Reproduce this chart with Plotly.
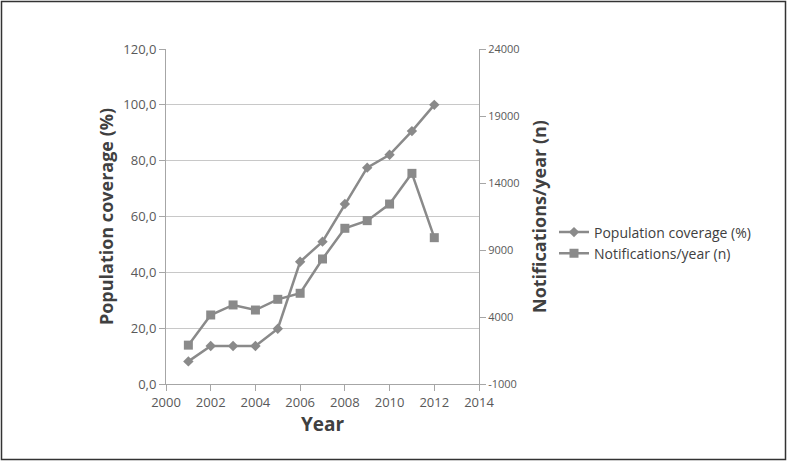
import plotly.graph_objects as go

# data
years = [2001, 2002, 2003, 2004, 2005, 2006, 2007, 2008, 2009, 2010, 2011, 2012]
coverage = [8.1, 13.6, 13.6, 13.6, 19.8, 43.8, 51.0, 64.5, 77.5, 82.1, 90.6, 100.0]
notifications = [1900, 4150, 4900, 4520, 5320, 5770, 8330, 10620, 11190, 12430, 14720, 9920]
right_ticks = [-1000, 4000, 9000, 14000, 19000, 24000]
right_labels = ["-1000", "4000", "9000", "14000", "19000", "24000"]

grey = "#8a8a8a"
axis_grey = "#a6a6a6"
font_family = "Open Sans, Lato, sans-serif"

fig = go.Figure()
fig.add_trace(go.Scatter(
    x=years, y=coverage, name="Population coverage (%)",
    mode="lines+markers", line=dict(color=grey, width=2.5),
    marker=dict(symbol="diamond", size=8, color=grey),
))
fig.add_trace(go.Scatter(
    x=years, y=notifications, name="Notifications/year (n)", yaxis="y2",
    mode="lines+markers", line=dict(color=grey, width=2.5),
    marker=dict(symbol="square", size=9, color=grey),
))

L, R, T, B = 166, 308, 49, 78
W, H = 787, 462
pw, ph = W - L - R, H - T - B

fig.update_layout(
    width=W, height=H,
    margin=dict(l=L, r=R, t=T, b=B),
    plot_bgcolor="white", paper_bgcolor="white",
    separators=",.",
    font=dict(family=font_family, size=12, color="#595959"),
    showlegend=True,
    legend=dict(x=(554 - L) / pw, y=(384 - 243) / ph, xanchor="left", yanchor="middle",
                font=dict(size=14, color="#404040"), tracegroupgap=4,
                bgcolor="rgba(0,0,0,0)"),
    xaxis=dict(range=[2000, 2014], dtick=2, tick0=2000, showgrid=False,
               showline=True, linecolor=axis_grey, linewidth=1,
               ticks="outside", ticklen=6, tickcolor=axis_grey,
               tickfont=dict(size=13, color="#595959"),
               title=dict(text="<b>Year</b>", font=dict(size=19, color="#404040"), standoff=8),
               zeroline=False),
    yaxis=dict(range=[0, 120], dtick=20, tickformat=".1f", showgrid=True,
               gridcolor="#c8c8c8", gridwidth=1,
               showline=True, linecolor=axis_grey, linewidth=1,
               ticks="outside", ticklen=6, tickcolor=axis_grey,
               tickfont=dict(size=13, color="#595959"),
               title=dict(text="<b>Population coverage (%)</b>", font=dict(size=18, color="#404040"), standoff=4),
               zeroline=False),
    yaxis2=dict(range=[-1000, 24000], tickvals=right_ticks, ticktext=right_labels,
                overlaying="y", side="right", showgrid=False,
                showline=True, linecolor=axis_grey, linewidth=1,
                ticks="outside", ticklen=6, tickcolor=axis_grey,
                tickfont=dict(size=11, color="#595959"),
                title=dict(text="<b>Notifications/year (n)</b>", font=dict(size=18, color="#404040"), standoff=14),
                zeroline=False),
    shapes=[dict(type="rect", xref="paper", yref="paper",
                 x0=(1.5 - L) / pw, x1=(785.5 - L) / pw,
                 y0=(H - 459.5 - B) / ph, y1=(H - 1.5 - B) / ph,
                 line=dict(color="#333333", width=1.5), fillcolor="rgba(0,0,0,0)")],
)

# drop the default 8px page margin so the figure sits at the window's corner
fig.write_html("out.html", config={"displayModeBar": False},
               post_script="document.body.style.margin='0px';")
